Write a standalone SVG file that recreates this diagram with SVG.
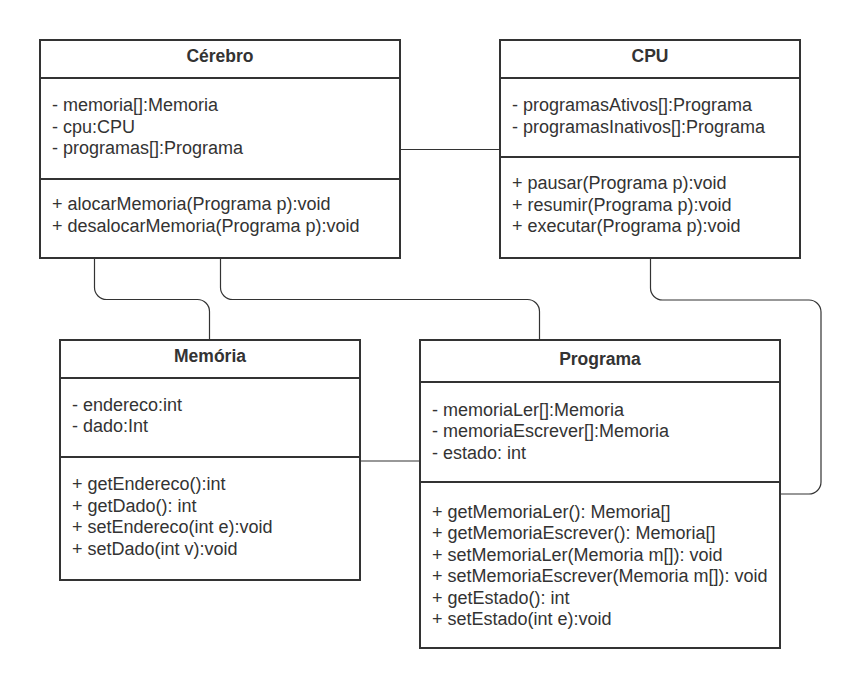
<svg xmlns="http://www.w3.org/2000/svg" width="861" height="689" viewBox="0 0 861 689">
<style>
.box{fill:#fff;stroke:#333;stroke-width:2}
.sep{stroke:#333;stroke-width:2}
.conn{fill:none;stroke:#333;stroke-width:1.2}
text{font-family:"Liberation Sans",Arial,sans-serif;font-size:18px;fill:#333}
.title{font-weight:bold;text-anchor:middle;font-size:17.5px}
</style>
<rect width="861" height="689" fill="#fff"/>
<g id="connectors">
<path class="conn" d="M400 149.5 H500"/>
<path class="conn" d="M94.5 258 V287.5 A12 12 0 0 0 106.5 299.5 H197.5 A12 12 0 0 1 209.5 311.5 V340"/>
<path class="conn" d="M220.5 258 V287.5 A12 12 0 0 0 232.5 299.5 H527.5 A12 12 0 0 1 539.5 311.5 V340"/>
<path class="conn" d="M650.5 258 V288 A12 12 0 0 0 662.5 300 H809 A12 12 0 0 1 821 312 V482 A12 12 0 0 1 809 494 H780"/>
<path class="conn" d="M360 461 H420"/>
</g>
<g id="cerebro">
<rect class="box" x="40" y="40" width="360" height="218"/>
<line class="sep" x1="40" y1="78" x2="400" y2="78"/>
<line class="sep" x1="40" y1="179" x2="400" y2="179"/>
<text class="title" x="220" y="62">Cérebro</text>
<text x="52" y="111">- memoria[]:Memoria</text>
<text x="52" y="132.5">- cpu:CPU</text>
<text x="52" y="154">- programas[]:Programa</text>
<text x="52" y="210">+ alocarMemoria(Programa p):void</text>
<text x="52" y="231.5">+ desalocarMemoria(Programa p):void</text>
</g>
<g id="cpu">
<rect class="box" x="500" y="40" width="300" height="218"/>
<line class="sep" x1="500" y1="78" x2="800" y2="78"/>
<line class="sep" x1="500" y1="157" x2="800" y2="157"/>
<text class="title" x="650" y="62">CPU</text>
<text x="512" y="111">- programasAtivos[]:Programa</text>
<text x="512" y="132.5">- programasInativos[]:Programa</text>
<text x="512" y="189">+ pausar(Programa p):void</text>
<text x="512" y="210.5">+ resumir(Programa p):void</text>
<text x="512" y="232">+ executar(Programa p):void</text>
</g>
<g id="memoria">
<rect class="box" x="60" y="340" width="300" height="240"/>
<line class="sep" x1="60" y1="378" x2="360" y2="378"/>
<line class="sep" x1="60" y1="457" x2="360" y2="457"/>
<text class="title" x="210" y="362">Memória</text>
<text x="72" y="410.5">- endereco:int</text>
<text x="72" y="432">- dado:Int</text>
<text x="72" y="490">+ getEndereco():int</text>
<text x="72" y="511.5">+ getDado(): int</text>
<text x="72" y="533">+ setEndereco(int e):void</text>
<text x="72" y="554.5">+ setDado(int v):void</text>
</g>
<g id="programa">
<rect class="box" x="420" y="340" width="360" height="308"/>
<line class="sep" x1="420" y1="382" x2="780" y2="382"/>
<line class="sep" x1="420" y1="482" x2="780" y2="482"/>
<text class="title" x="600" y="365">Programa</text>
<text x="432" y="415.5">- memoriaLer[]:Memoria</text>
<text x="432" y="437">- memoriaEscrever[]:Memoria</text>
<text x="432" y="458.5">- estado: int</text>
<text x="432" y="517.5">+ getMemoriaLer(): Memoria[]</text>
<text x="432" y="539">+ getMemoriaEscrever(): Memoria[]</text>
<text x="432" y="560.5">+ setMemoriaLer(Memoria m[]): void</text>
<text x="432" y="582">+ setMemoriaEscrever(Memoria m[]): void</text>
<text x="432" y="603.5">+ getEstado(): int</text>
<text x="432" y="625">+ setEstado(int e):void</text>
</g>
</svg>
